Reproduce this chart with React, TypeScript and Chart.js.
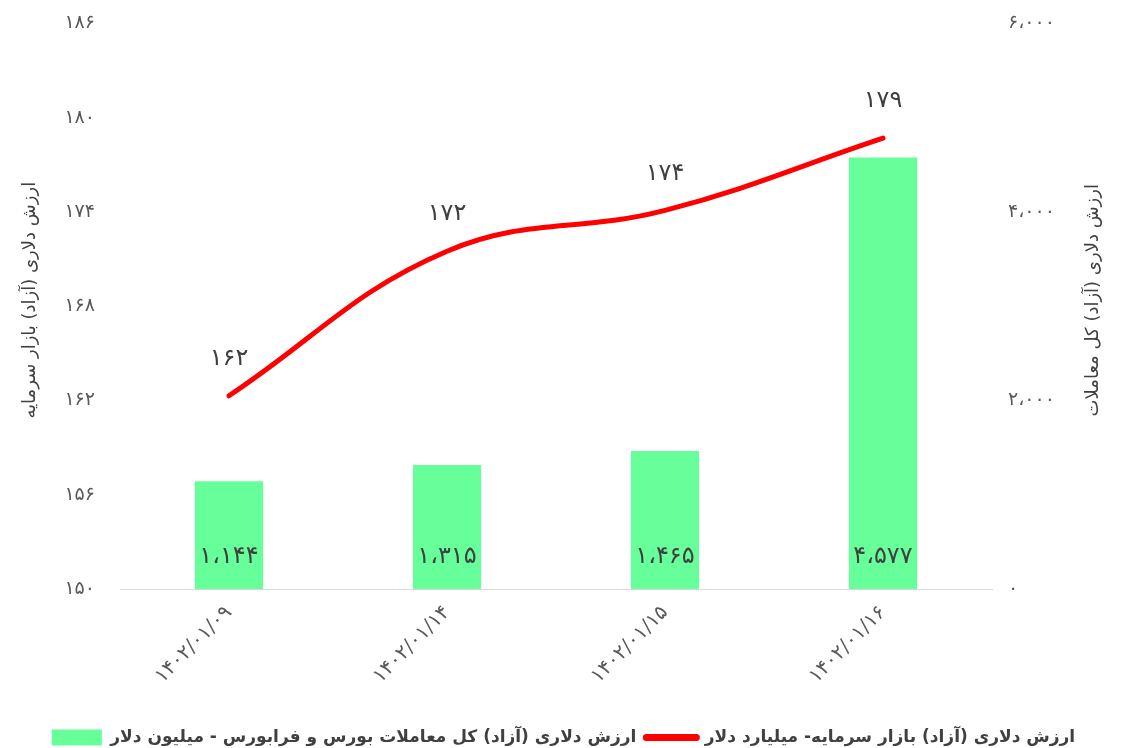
import React, { useEffect, useRef } from 'react';
import { Chart, registerables } from 'chart.js';

Chart.register(...registerables);

const categories = ['۱۴۰۲/۰۱/۰۹', '۱۴۰۲/۰۱/۱۴', '۱۴۰۲/۰۱/۱۵', '۱۴۰۲/۰۱/۱۶'];
const tradeValues = [1144, 1315, 1465, 4577];
const marketValues = [162.3, 171.5, 174.1, 178.7];
const leftTicks = [150, 156, 162, 168, 174, 180, 186];
const rightTicks = [0, 2000, 4000, 6000];
const barLabel = 'ارزش دلاری (آزاد) کل معاملات بورس و فرابورس - میلیون دلار';
const lineLabel = 'ارزش دلاری (آزاد) بازار سرمایه- میلیارد دلار';
const leftTitle = 'ارزش دلاری (آزاد) بازار سرمایه';
const rightTitle = 'ارزش دلاری (آزاد) کل معاملات';

const faDigits = '۰۱۲۳۴۵۶۷۸۹';
function toFa(n: number): string {
  const s = Math.round(n).toString().replace(/\B(?=(\d{3})+(?!\d))/g, '،');
  return s.replace(/\d/g, (d) => faDigits[+d]);
}

const FONT = '"DejaVu Sans", sans-serif';

const labelPlugin = {
  id: 'customLabels',
  afterDatasetsDraw(chart: any) {
    const ctx = chart.ctx;
    const area = chart.chartArea;
    ctx.save();
    ctx.fillStyle = '#404040';
    ctx.textAlign = 'center';
    ctx.textBaseline = 'middle';
    ctx.font = '24px ' + FONT;
    const barMeta = chart.getDatasetMeta(0);
    barMeta.data.forEach((el: any, i: number) => {
      ctx.fillText(toFa(tradeValues[i]), el.x, area.bottom - 32);
    });
    const lineMeta = chart.getDatasetMeta(1);
    lineMeta.data.forEach((el: any, i: number) => {
      ctx.fillText(toFa(marketValues[i]), el.x, el.y - 37);
    });
    const cy = (area.top + area.bottom) / 2 - 6;
    ctx.font = '18px ' + FONT;
    ctx.fillStyle = '#404040';
    ctx.save();
    ctx.translate(30, cy);
    ctx.rotate(-Math.PI / 2);
    ctx.fillText(leftTitle, 0, 0);
    ctx.restore();
    ctx.save();
    ctx.translate(1093, cy);
    ctx.rotate(-Math.PI / 2);
    ctx.fillText(rightTitle, 0, 0);
    ctx.restore();
    ctx.restore();
  },
};

export default function App() {
  const ref = useRef<HTMLCanvasElement>(null);
  useEffect(() => {
    if (!ref.current) return;
    Chart.defaults.font.family = FONT;
    const chart = new Chart(ref.current, {
      type: 'bar',
      data: {
        labels: categories,
        datasets: [
          {
            type: 'bar',
            label: barLabel,
            data: tradeValues,
            backgroundColor: '#66ff99',
            borderWidth: 0,
            yAxisID: 'y1',
            barPercentage: 1,
            categoryPercentage: 0.313,
          },
          {
            type: 'line',
            label: lineLabel,
            data: marketValues,
            borderColor: '#ff0000',
            backgroundColor: '#ff0000',
            borderWidth: 5,
            borderCapStyle: 'round',
            pointRadius: 0,
            tension: 0.4,
            fill: false,
            yAxisID: 'y',
          },
        ] as any,
      },
      options: {
        animation: false,
        responsive: true,
        maintainAspectRatio: false,
        layout: { padding: { top: 0, left: 0, right: 0, bottom: 0 } },
        plugins: {
          tooltip: { enabled: false },
          legend: {
            position: 'bottom',
            labels: {
              usePointStyle: true,
              pointStyleWidth: 50,
              boxHeight: 16,
              color: '#404040',
              padding: 10,
              font: { size: 17, weight: 'bold' },
              generateLabels(chart: any) {
                const items = (Chart.defaults.plugins.legend.labels as any).generateLabels(chart);
                items.forEach((it: any) => {
                  if (it.datasetIndex === 0) {
                    it.pointStyle = 'rect';
                    it.lineWidth = 0;
                    it.fillStyle = '#66ff99';
                  } else {
                    it.pointStyle = 'line';
                    it.lineWidth = 7;
                    it.strokeStyle = '#ff0000';
                    it.lineCap = 'round';
                  }
                });
                return items;
              },
            },
          },
        },
        scales: {
          x: {
            grid: { display: false, drawTicks: false },
            border: { display: true, color: '#d9d9d9', width: 1 },
            ticks: { minRotation: 45, maxRotation: 45, color: '#595959', font: { size: 20 }, padding: 12 },
            afterFit: (s: any) => { s.height = 130; },
          },
          y: {
            position: 'left',
            min: 150,
            max: 186,
            grid: { display: false, drawTicks: false },
            border: { display: false },
            afterBuildTicks: (s: any) => { s.ticks = leftTicks.map((v) => ({ value: v })); },
            ticks: { color: '#595959', font: { size: 19 }, padding: 25, callback: (v: any) => toFa(Number(v)) },
            afterFit: (s: any) => { s.width = 120; },
          },
          y1: {
            position: 'right',
            min: 0,
            max: 6000,
            grid: { display: false, drawTicks: false },
            border: { display: false },
            afterBuildTicks: (s: any) => { s.ticks = rightTicks.map((v) => ({ value: v })); },
            ticks: { color: '#595959', font: { size: 19 }, padding: 16, callback: (v: any) => toFa(Number(v)) },
            afterFit: (s: any) => { s.width = 135; },
          },
        },
      },
      plugins: [labelPlugin],
    } as any);
    return () => chart.destroy();
  }, []);
  return (
    <div style={{ position: 'absolute', left: 0, top: 0, width: 1127, height: 748, overflow: 'hidden' }}>
      <div style={{ position: 'absolute', left: 0, top: -13, width: 1127, height: 769 }}>
        <canvas ref={ref} />
      </div>
    </div>
  );
}
